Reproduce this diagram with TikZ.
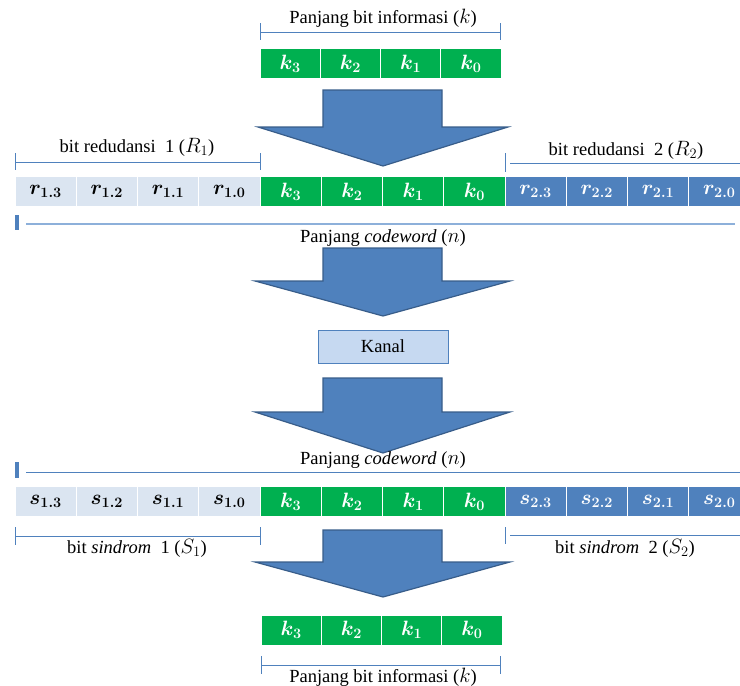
\documentclass[tikz,border=0pt]{standalone}
\usepackage{fontspec}
\setmainfont{Liberation Serif}
\definecolor{kgreen}{HTML}{00B050}
\definecolor{lightcell}{HTML}{DBE5F1}
\definecolor{bluecell}{HTML}{4F81BD}
\definecolor{arrowedge}{HTML}{385D8A}
\definecolor{kanalfill}{HTML}{C6D9F1}
\definecolor{brkcol}{HTML}{4F81BD}
\definecolor{longcol}{HTML}{8DB0DA}
\tikzset{
  cellbase/.style={draw=white, line width=1pt, minimum height=30pt, inner sep=0pt,
    font=\fontsize{22}{24}\selectfont\boldmath},
  gcell/.style={cellbase, fill=kgreen, text=white},
  lcell/.style={cellbase, fill=lightcell, text=black},
  bcell/.style={cellbase, fill=bluecell, text=white},
  lbl/.style={font=\fontsize{18.5}{20}\selectfont, inner sep=0pt, text=black},
  brk/.style={draw=brkcol, line width=1pt},
  longline/.style={draw=longcol, line width=1.6pt},
  marker/.style={fill=bluecell, draw=none},
  bigarrow/.style={fill=bluecell, draw=arrowedge, line width=1.2pt, line join=miter},
  kanalbox/.style={draw=bluecell, fill=kanalfill, line width=1pt, minimum width=130pt,
    minimum height=33pt, inner sep=0pt, font=\fontsize{18.5}{20}\selectfont}
}
\newcommand{\lm}[1]{\text{\fontsize{21}{22}\selectfont$#1$}}
\begin{document}
\begin{tikzpicture}[x=1pt,y=-1pt]
\useasboundingbox (0,0) rectangle (740,686);
\clip (0,0) rectangle (740,686);

% ---------- top: information bits ----------
\node[lbl] (lblk1) at (383,18) {Panjang bit informasi ({\fontsize{21}{22}\selectfont$k$})};
\coordinate (bk1a) at (260,32);
\coordinate (bk1b) at (500,32);
\draw[brk] (bk1a) -- (bk1b);
\draw[brk] ([yshift=9pt]bk1a) -- ([yshift=-8pt]bk1a);
\draw[brk] ([yshift=9pt]bk1b) -- ([yshift=-8pt]bk1b);

\node[gcell, minimum width=60.25pt] (t3) at (290.125,63.5) {$k_3$};
\node[gcell, minimum width=60.25pt] (t2) at (350.375,63.5) {$k_2$};
\node[gcell, minimum width=60.25pt] (t1) at (410.625,63.5) {$k_1$};
\node[gcell, minimum width=60.25pt] (t0) at (470.875,63.5) {$k_0$};

% arrow 1
\draw[bigarrow] (323,90) -- (442,90) -- (442,127) -- (508,127) -- (383,166) -- (258,127) -- (323,127) -- cycle;

% ---------- codeword row ----------
\node[lbl] (lblr1) at (137,147) {bit redudansi\enspace 1 ({\fontsize{21}{22}\selectfont$R_1$})};
\coordinate (br1a) at (15,162);
\coordinate (br1b) at (260,162);
\draw[brk] (br1a) -- (br1b);
\draw[brk] ([yshift=9pt]br1a) -- ([yshift=-8pt]br1a);
\draw[brk] ([yshift=9pt]br1b) -- ([yshift=-8pt]br1b);

\node[lbl] (lblr2) at (626,150) {bit redudansi\enspace 2 ({\fontsize{21}{22}\selectfont$R_2$})};
\coordinate (br2a) at (505,163);
\coordinate (br2b) at (742,163);
\draw[brk] ([xshift=5pt]br2a) -- (br2b);
\draw[brk] ([yshift=10pt]br2a) -- ([yshift=-9pt]br2a);

\node[lcell, minimum width=61.25pt] (c1) at (45.625,191.5) {$r_{1.3}$};
\node[lcell, minimum width=61.25pt] (c2) at (106.875,191.5) {$r_{1.2}$};
\node[lcell, minimum width=61.25pt] (c3) at (168.125,191.5) {$r_{1.1}$};
\node[lcell, minimum width=61.25pt] (c4) at (229.375,191.5) {$r_{1.0}$};
\node[gcell, minimum width=61.25pt] (c5) at (290.625,191.5) {$k_3$};
\node[gcell, minimum width=61.25pt] (c6) at (351.875,191.5) {$k_2$};
\node[gcell, minimum width=61.25pt] (c7) at (413.125,191.5) {$k_1$};
\node[gcell, minimum width=61.25pt] (c8) at (474.375,191.5) {$k_0$};
\node[bcell, minimum width=61.25pt] (c9) at (535.625,191.5) {$r_{2.3}$};
\node[bcell, minimum width=61.25pt] (c10) at (596.875,191.5) {$r_{2.2}$};
\node[bcell, minimum width=61.25pt] (c11) at (658.125,191.5) {$r_{2.1}$};
\node[bcell, minimum width=61.25pt] (c12) at (719.375,191.5) {$r_{2.0}$};

\fill[marker] (15,215) rectangle (19,230);
\coordinate (ln1a) at (26,224);
\coordinate (ln1b) at (735,224);
\draw[longline] (ln1a) -- (ln1b);
\node[lbl] (lbln1) at (383,238) {Panjang \textit{codeword} ({\fontsize{21}{22}\selectfont$n$})};

% arrow 2
\draw[bigarrow] (323,248) -- (442,248) -- (442,281) -- (510,281) -- (383,316) -- (255,281) -- (323,281) -- cycle;

% Kanal
\node[kanalbox] (kanal) at (383,346.5) {Kanal};

% arrow 3
\draw[bigarrow] (323,378) -- (442,378) -- (442,412) -- (510,412) -- (383,453) -- (255,412) -- (323,412) -- cycle;

% ---------- received row ----------
\node[lbl] (lbln2) at (383,460) {Panjang \textit{codeword} ({\fontsize{21}{22}\selectfont$n$})};
\fill[marker] (15,462) rectangle (19,478);
\coordinate (ln2a) at (26,472);
\coordinate (ln2b) at (742,472);
\draw[brk] (ln2a) -- (ln2b);

\node[lcell, minimum width=61.25pt] (s1) at (45.625,501.5) {$s_{1.3}$};
\node[lcell, minimum width=61.25pt] (s2) at (106.875,501.5) {$s_{1.2}$};
\node[lcell, minimum width=61.25pt] (s3) at (168.125,501.5) {$s_{1.1}$};
\node[lcell, minimum width=61.25pt] (s4) at (229.375,501.5) {$s_{1.0}$};
\node[gcell, minimum width=61.25pt] (s5) at (290.625,501.5) {$k_3$};
\node[gcell, minimum width=61.25pt] (s6) at (351.875,501.5) {$k_2$};
\node[gcell, minimum width=61.25pt] (s7) at (413.125,501.5) {$k_1$};
\node[gcell, minimum width=61.25pt] (s8) at (474.375,501.5) {$k_0$};
\node[bcell, minimum width=61.25pt] (s9) at (535.625,501.5) {$s_{2.3}$};
\node[bcell, minimum width=61.25pt] (s10) at (596.875,501.5) {$s_{2.2}$};
\node[bcell, minimum width=61.25pt] (s11) at (658.125,501.5) {$s_{2.1}$};
\node[bcell, minimum width=61.25pt] (s12) at (719.375,501.5) {$s_{2.0}$};

\coordinate (bs1a) at (15,536);
\coordinate (bs1b) at (260,536);
\draw[brk] (bs1a) -- (bs1b);
\draw[brk] ([yshift=9pt]bs1a) -- ([yshift=-9pt]bs1a);
\draw[brk] ([yshift=9pt]bs1b) -- ([yshift=-9pt]bs1b);
\node[lbl] (lbls1) at (137,548) {bit \textit{sindrom}\enspace 1 ({\fontsize{21}{22}\selectfont$S_1$})};

\coordinate (bs2a) at (505,535);
\coordinate (bs2b) at (742,535);
\draw[brk] ([xshift=5pt]bs2a) -- (bs2b);
\draw[brk] ([yshift=8pt]bs2a) -- ([yshift=-9pt]bs2a);
\node[lbl] (lbls2) at (625,548) {bit \textit{sindrom}\enspace 2 ({\fontsize{21}{22}\selectfont$S_2$})};

% arrow 4
\draw[bigarrow] (323,530) -- (442,530) -- (442,562) -- (510,562) -- (383,597) -- (255,562) -- (323,562) -- cycle;

% ---------- decoded information ----------
\node[gcell, minimum width=60.25pt] (b3) at (291.125,630) {$k_3$};
\node[gcell, minimum width=60.25pt] (b2) at (351.375,630) {$k_2$};
\node[gcell, minimum width=60.25pt] (b1) at (411.625,630) {$k_1$};
\node[gcell, minimum width=60.25pt] (b0) at (471.875,630) {$k_0$};

\coordinate (bk2a) at (261,665);
\coordinate (bk2b) at (500,665);
\draw[brk] (bk2a) -- (bk2b);
\draw[brk] ([yshift=9pt]bk2a) -- ([yshift=-9pt]bk2a);
\draw[brk] ([yshift=9pt]bk2b) -- ([yshift=-9pt]bk2b);
\node[lbl] (lblk2) at (383,677) {Panjang bit informasi ({\fontsize{21}{22}\selectfont$k$})};
\end{tikzpicture}
\end{document}
